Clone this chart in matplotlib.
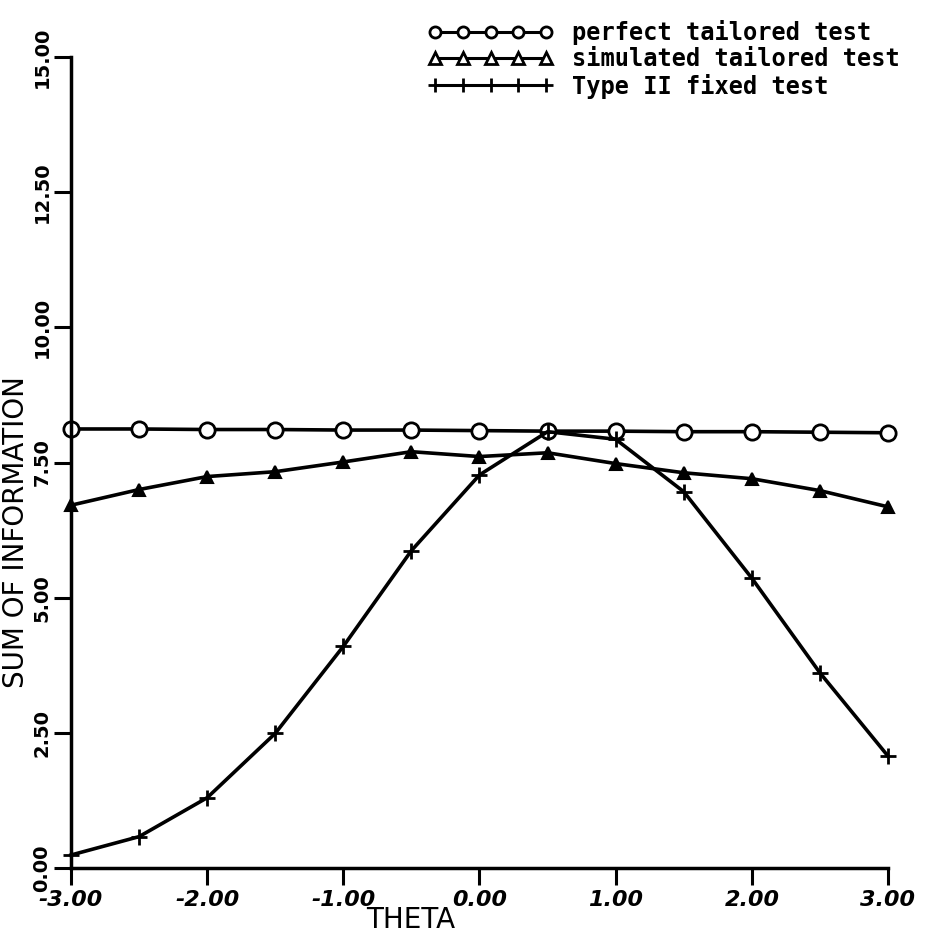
import matplotlib
matplotlib.use("Agg")
import matplotlib.pyplot as plt
from matplotlib.lines import Line2D

theta = [-3.0, -2.5, -2.0, -1.5, -1.0, -0.5, 0.0, 0.5, 1.0, 1.5, 2.0, 2.5, 3.0]
perfect = [8.12, 8.12, 8.11, 8.11, 8.10, 8.10, 8.09, 8.08, 8.08, 8.07, 8.07, 8.06, 8.05]
simulated = [6.71, 7.00, 7.24, 7.33, 7.51, 7.70, 7.61, 7.68, 7.48, 7.31, 7.20, 6.98, 6.68]
fixed = [0.24, 0.58, 1.30, 2.49, 4.10, 5.87, 7.27, 8.07, 7.93, 6.96, 5.36, 3.61, 2.07]

labels = ["perfect tailored test", "simulated tailored test", "Type II fixed test"]
xticks = [-3, -2, -1, 0, 1, 2, 3]
xticklabels = ["-3.00", "-2.00", "-1.00", "0.00", "1.00", "2.00", "3.00"]
yticks = [0, 2.5, 5, 7.5, 10, 12.5, 15]
yticklabels = ["0.00", "2.50", "5.00", "7.50", "10.00", "12.50", "15.00"]

W, H = 944, 939
fig = plt.figure(figsize=(W / 100, H / 100), dpi=100)
ax = fig.add_axes([71 / W, 1 - 868 / H, (888 - 71) / W, (868 - 57) / H])

lw = 2.6
ax.plot(theta, perfect, color="black", lw=lw, marker="o", ms=11,
        mfc="white", mec="black", mew=2, clip_on=False)
ax.plot(theta, simulated, color="black", lw=lw, marker="^", ms=9,
        mfc="black", mec="black", mew=1.5, clip_on=False)
ax.plot(theta, fixed, color="black", lw=lw, marker="+", ms=12,
        mew=2, clip_on=False)

ax.set_xlim(-3, 3)
ax.set_ylim(0, 15)
for s in ["top", "right"]:
    ax.spines[s].set_visible(False)
for s in ["left", "bottom"]:
    ax.spines[s].set_linewidth(2.5)

ax.set_xticks(xticks)
ax.set_xticklabels(xticklabels, fontsize=16, fontstyle="italic", fontweight="bold")
ax.set_yticks(yticks)
ax.set_yticklabels(yticklabels, fontsize=14, fontweight="bold", rotation=90, va="center")
ax.tick_params(axis="both", direction="out", length=12, width=2.2, pad=4)
ax.tick_params(axis="y", pad=2)

fig.text(411 / W, 1 - 920 / H, "THETA", ha="center", va="center", fontsize=20)
fig.text(16 / W, 1 - 532 / H, "SUM OF INFORMATION", ha="center", va="center",
         rotation=90, fontsize=20)

h1 = Line2D([], [], color="black", lw=2.2, marker="o", ms=8, mfc="white", mec="black", mew=2)
h2 = Line2D([], [], color="black", lw=2.2, marker="^", ms=8, mfc="white", mec="black", mew=2)
h3 = Line2D([], [], color="black", lw=2.2, marker="+", ms=10, mew=2)
fig.legend([h1, h2, h3], labels, loc="upper left",
           bbox_to_anchor=(428 / W, 1 - 20 / H), bbox_transform=fig.transFigure,
           numpoints=5, handlelength=5.3, handletextpad=0.8, labelspacing=0.1,
           borderpad=0, borderaxespad=0, frameon=False,
           prop={"family": "DejaVu Sans Mono", "weight": "bold", "size": 17})

fig.savefig("out.png", dpi=100)
